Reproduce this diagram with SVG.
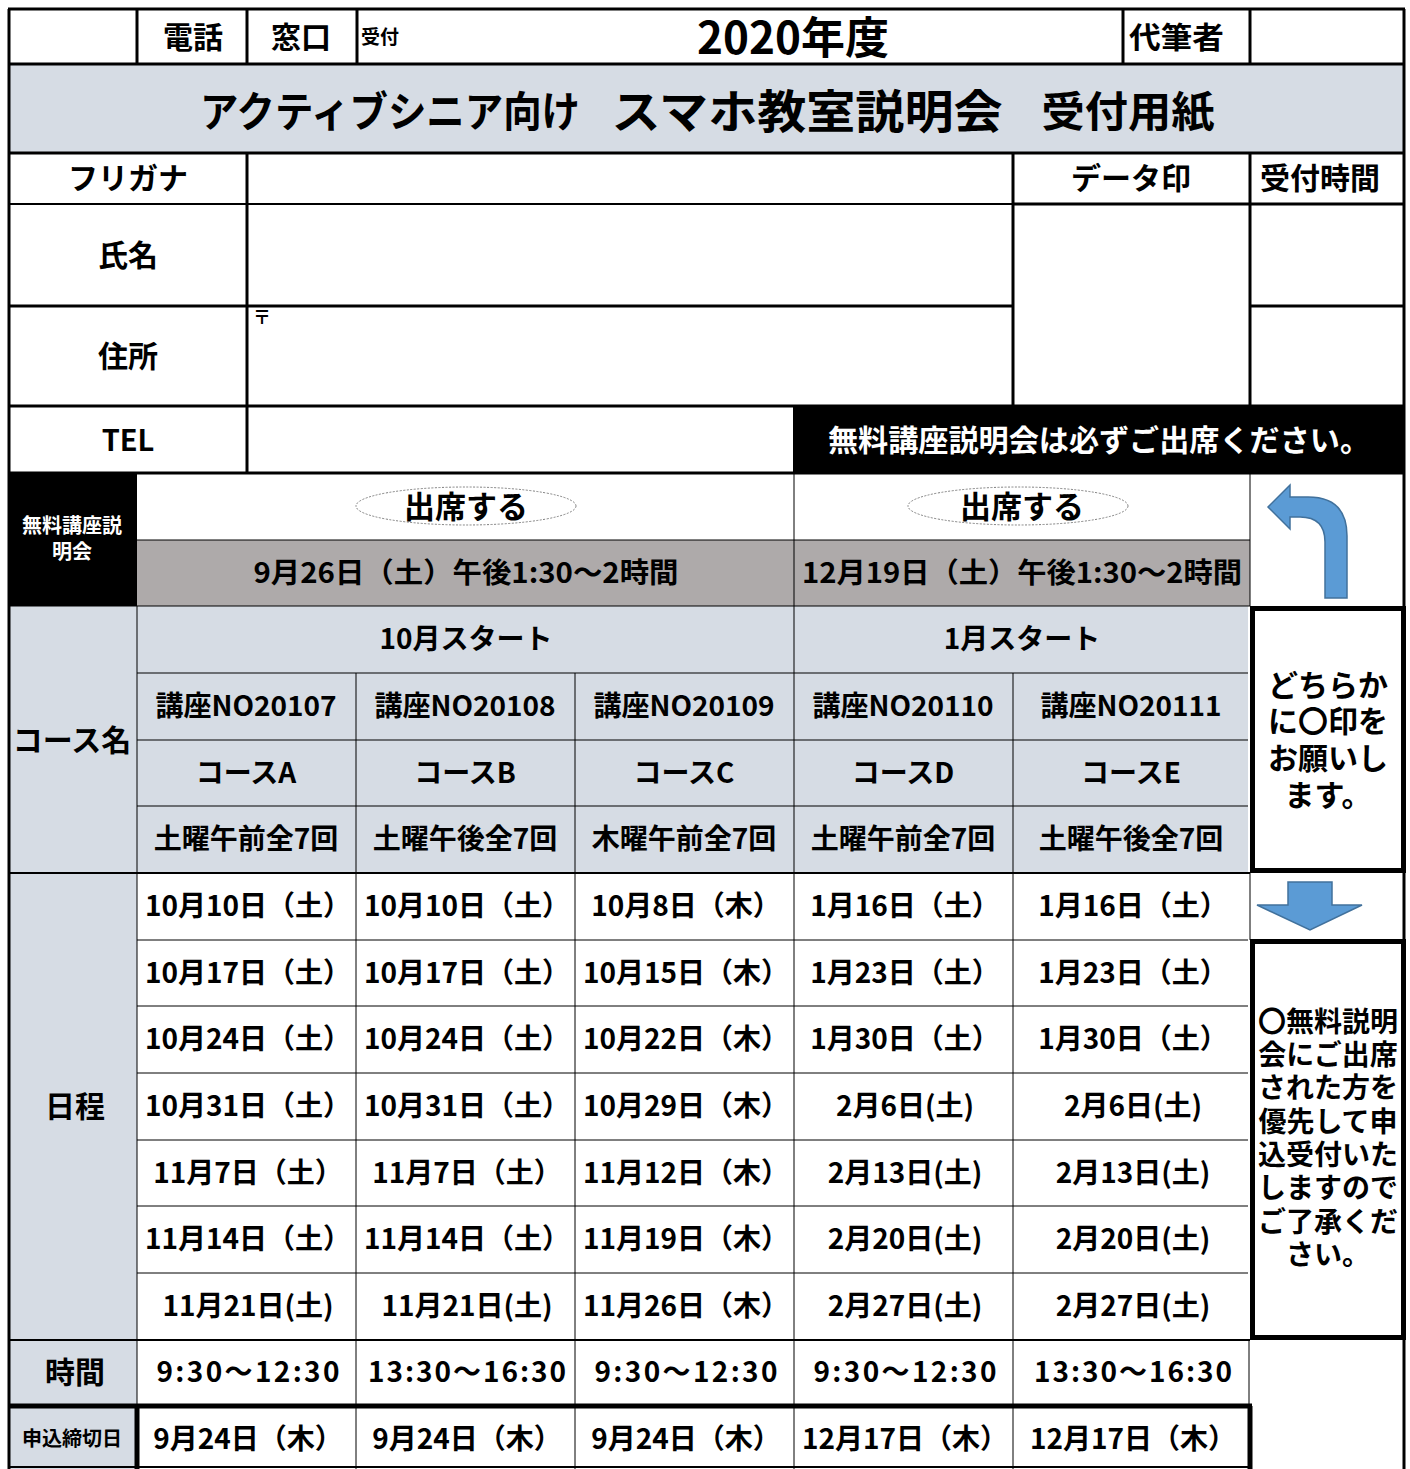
<svg xmlns="http://www.w3.org/2000/svg" width="1410" height="1469" viewBox="0 0 1410 1469">
<style>
.t{font-family:"Noto Sans CJK JP","Noto Sans",sans-serif;font-weight:bold;fill:#000;text-anchor:middle;dominant-baseline:central;font-size:28px;transform:translateY(-2px)}
.w{fill:#fff}
.s{text-anchor:start}
.l1{stroke:#000;stroke-width:1;fill:none}
.l2{stroke:#000;stroke-width:2;fill:none}
.l3{stroke:#000;stroke-width:3;fill:none}
.l5{stroke:#000;stroke-width:5;fill:none}
.lb{fill:#D6DCE4}
.gr{fill:#AEAAAA}
.ell{fill:none;stroke:#808080;stroke-width:1;stroke-dasharray:2 1.5}
.arr{fill:#5B9BD5;stroke:#41719C;stroke-width:1.5}
</style>
<rect x="0" y="0" width="1410" height="1469" fill="#fff"/>
<g id="fills">
<rect x="8" y="64" width="1397" height="89" class="lb"/>
<rect x="793" y="406" width="612" height="67" fill="#000"/>
<rect x="8" y="473" width="129" height="133" fill="#000"/>
<rect x="137" y="540" width="1113" height="66" class="gr"/>
<rect x="8" y="606" width="1240" height="267" class="lb"/>
<rect x="8" y="873" width="129" height="596" class="lb"/>
</g>
<g id="connectors">
<path class="l3" d="M8 9H1405M9 9V1469M1404 9V1469"/>
<path class="l3" d="M137 9V64M247 9V64M357 9V64M1123 9V64M1250 9V64M8 64H1405M8 153H1405"/>
<path class="l3" d="M247 153V473M1013 153V406M1250 153V406"/>
<path class="l2" d="M8 204H1013"/>
<path class="l3" d="M1013 204H1405M8 306H1013M1250 306H1405M8 406H1405M8 473H1405"/>
<path class="l1" d="M794 473V1469M137 540H1250M1250 473V606M137 606V1406M8 606H1250M137 673H1248M356 673V1469M575 673V1469M1013 673V1469M137 740H1248M137 806H1248"/>
<path class="l2" d="M8 873H1250"/>
<path class="l1" d="M137 940H1248M137 1006H1248M137 1073H1248M137 1140H1248M137 1206H1248M137 1273H1248M1250 873V940M1249 1340V1406"/>
<path class="l2" d="M8 1340H1250M8 1467H1250"/>
<path class="l5" d="M8 1406H1252M137 1406V1469M1250 1406V1469"/>
</g>
<g id="header">
<text class="t" x="193" y="37" style="font-size:30px">電話</text>
<text class="t" x="301" y="37" style="font-size:30px">窓口</text>
<text class="t s" x="361" y="37" style="font-size:19px">受付</text>
<text class="t" x="793" y="37" style="font-size:44px">2020年度</text>
<text class="t s" x="1129" y="37" style="font-size:30px" textLength="95" lengthAdjust="spacingAndGlyphs">代筆者</text>
</g>
<g id="title">
<text class="t" x="390" y="110" style="font-size:42px" textLength="380" lengthAdjust="spacingAndGlyphs">アクティブシニア向け</text>
<text class="t" x="807" y="110" style="font-size:46px" textLength="391" lengthAdjust="spacingAndGlyphs">スマホ教室説明会</text>
<text class="t" x="1128" y="110" style="font-size:42px" textLength="173" lengthAdjust="spacingAndGlyphs">受付用紙</text>
</g>
<g id="form">
<text class="t" x="128" y="178" style="font-size:30px">フリガナ</text>
<text class="t" x="1131" y="178" style="font-size:30px">データ印</text>
<text class="t" x="1320" y="178" style="font-size:30px">受付時間</text>
<text class="t" x="128" y="255" style="font-size:30px">氏名</text>
<text class="t" x="128" y="356" style="font-size:30px">住所</text>
<text class="t s" x="253" y="318" style="font-size:18px">〒</text>
<text class="t" x="128" y="440" style="font-size:29px">TEL</text>
<text class="t w" x="1099" y="440" style="font-size:30px" textLength="542" lengthAdjust="spacingAndGlyphs">無料講座説明会は必ずご出席ください。</text>
</g>
<g id="session">
<text class="t w" x="72" y="526" style="font-size:20px">無料講座説<tspan x="72" dy="26">明会</tspan></text>
<ellipse class="ell" cx="466" cy="506" rx="110" ry="19"/>
<text class="t" x="466" y="506" style="font-size:31px">出席する</text>
<ellipse class="ell" cx="1018" cy="506" rx="110" ry="19"/>
<text class="t" x="1022" y="506" style="font-size:31px">出席する</text>
<text class="t" x="466" y="573" textLength="425" lengthAdjust="spacingAndGlyphs">9月26日（土）午後1:30〜2時間</text>
<text class="t" x="1022" y="573" textLength="440" lengthAdjust="spacingAndGlyphs">12月19日（土）午後1:30〜2時間</text>
</g>
<g id="courses">
<text class="t" x="72" y="740" style="font-size:30px">コース名</text>
<text class="t" x="466" y="639">10月スタート</text>
<text class="t" x="1022" y="639">1月スタート</text>
<text class="t" x="246" y="706">講座NO20107</text>
<text class="t" x="465" y="706">講座NO20108</text>
<text class="t" x="684" y="706">講座NO20109</text>
<text class="t" x="903" y="706">講座NO20110</text>
<text class="t" x="1131" y="706">講座NO20111</text>
<text class="t" x="246" y="773">コースA</text>
<text class="t" x="465" y="773">コースB</text>
<text class="t" x="684" y="773">コースC</text>
<text class="t" x="903" y="773">コースD</text>
<text class="t" x="1131" y="773">コースE</text>
<text class="t" x="246" y="839">土曜午前全7回</text>
<text class="t" x="465" y="839">土曜午後全7回</text>
<text class="t" x="684" y="839">木曜午前全7回</text>
<text class="t" x="903" y="839">土曜午前全7回</text>
<text class="t" x="1131" y="839">土曜午後全7回</text>
</g>
<g id="schedule">
<text class="t" x="75" y="1106" style="font-size:30px">日程</text>
<text class="t" x="248" y="906">10月10日（土）</text>
<text class="t" x="467" y="906">10月10日（土）</text>
<text class="t" x="686" y="906">10月8日（木）</text>
<text class="t" x="905" y="906">1月16日（土）</text>
<text class="t" x="1133" y="906">1月16日（土）</text>
<text class="t" x="248" y="973">10月17日（土）</text>
<text class="t" x="467" y="973">10月17日（土）</text>
<text class="t" x="686" y="973">10月15日（木）</text>
<text class="t" x="905" y="973">1月23日（土）</text>
<text class="t" x="1133" y="973">1月23日（土）</text>
<text class="t" x="248" y="1039">10月24日（土）</text>
<text class="t" x="467" y="1039">10月24日（土）</text>
<text class="t" x="686" y="1039">10月22日（木）</text>
<text class="t" x="905" y="1039">1月30日（土）</text>
<text class="t" x="1133" y="1039">1月30日（土）</text>
<text class="t" x="248" y="1106">10月31日（土）</text>
<text class="t" x="467" y="1106">10月31日（土）</text>
<text class="t" x="686" y="1106">10月29日（木）</text>
<text class="t" x="905" y="1106">2月6日(土)</text>
<text class="t" x="1133" y="1106">2月6日(土)</text>
<text class="t" x="248" y="1173">11月7日（土）</text>
<text class="t" x="467" y="1173">11月7日（土）</text>
<text class="t" x="686" y="1173">11月12日（木）</text>
<text class="t" x="905" y="1173">2月13日(土)</text>
<text class="t" x="1133" y="1173">2月13日(土)</text>
<text class="t" x="248" y="1239">11月14日（土）</text>
<text class="t" x="467" y="1239">11月14日（土）</text>
<text class="t" x="686" y="1239">11月19日（木）</text>
<text class="t" x="905" y="1239">2月20日(土)</text>
<text class="t" x="1133" y="1239">2月20日(土)</text>
<text class="t" x="248" y="1306">11月21日(土)</text>
<text class="t" x="467" y="1306">11月21日(土)</text>
<text class="t" x="686" y="1306">11月26日（木）</text>
<text class="t" x="905" y="1306">2月27日(土)</text>
<text class="t" x="1133" y="1306">2月27日(土)</text>
</g>
<g id="times">
<text class="t" x="75" y="1372" style="font-size:30px">時間</text>
<text class="t" x="248" y="1372" textLength="183" lengthAdjust="spacing">9:30〜12:30</text>
<text class="t" x="467" y="1372" textLength="198" lengthAdjust="spacing">13:30〜16:30</text>
<text class="t" x="686" y="1372" textLength="183" lengthAdjust="spacing">9:30〜12:30</text>
<text class="t" x="905" y="1372" textLength="183" lengthAdjust="spacing">9:30〜12:30</text>
<text class="t" x="1133" y="1372" textLength="198" lengthAdjust="spacing">13:30〜16:30</text>
</g>
<g id="deadline">
<text class="t" x="72" y="1439" style="font-size:20px">申込締切日</text>
<text class="t" x="248" y="1439">9月24日（木）</text>
<text class="t" x="467" y="1439">9月24日（木）</text>
<text class="t" x="686" y="1439">9月24日（木）</text>
<text class="t" x="905" y="1439">12月17日（木）</text>
<text class="t" x="1133" y="1439">12月17日（木）</text>
</g>
<g id="arrow-up">
<path class="arr" d="M1325 598V542Q1325 517 1300 517H1290V529L1268 507L1290 485V497H1308Q1347 497 1347 536V598Z"/>
</g>
<g id="choose-box">
<rect class="l5" x="1252.5" y="608.5" width="151" height="262"/>
<text class="t" x="1328" y="685" style="font-size:30px">どちらか<tspan x="1328" dy="36">に〇印を</tspan><tspan x="1328" dy="37">お願いし</tspan><tspan x="1328" dy="37">ます。</tspan></text>
</g>
<g id="arrow-down">
<path class="arr" d="M1288 882H1332V905H1362L1310 930L1257 905H1288Z"/>
</g>
<g id="notice-box">
<rect class="l5" x="1252.5" y="941.5" width="151" height="396"/>
<text class="t" x="1328" y="1022">〇無料説明<tspan x="1328" dy="33">会にご出席</tspan><tspan x="1328" dy="33">された方を</tspan><tspan x="1328" dy="34">優先して申</tspan><tspan x="1328" dy="33">込受付いた</tspan><tspan x="1328" dy="33">しますので</tspan><tspan x="1328" dy="34">ご了承くだ</tspan><tspan x="1328" dy="33">さい。</tspan></text>
</g>
</svg>
